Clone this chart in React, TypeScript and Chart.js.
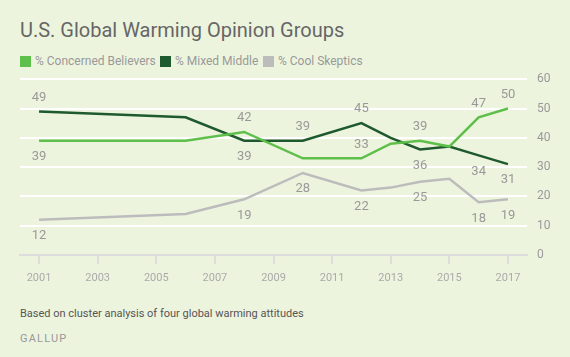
import React, { useEffect, useRef } from "react";
import { Chart, registerables } from "chart.js";

Chart.register(...registerables);

const years = [2001, 2006, 2008, 2010, 2012, 2013, 2014, 2015, 2016, 2017];
const concerned = [39, 39, 42, 33, 33, 38, 39, 37, 47, 50];
const mixed = [49, 47, 39, 39, 45, 40, 36, 37, 34, 31];
const skeptics = [12, 14, 19, 28, 22, 23, 25, 26, 18, 19];
const xTicks = [2001, 2003, 2005, 2007, 2009, 2011, 2013, 2015, 2017];
const yTicks = [0, 10, 20, 30, 40, 50, 60];

const seriesNames = ["% Concerned Believers", "% Mixed Middle", "% Cool Skeptics"];
const seriesColors = ["#5ec04a", "#1f5a2e", "#bcbcbc"];

// [datasetIndex, dataIndex, placement]
const labelMarks: [number, number, "above" | "below"][] = [
  [1, 0, "above"], [1, 2, "below"], [1, 3, "above"], [1, 4, "above"], [1, 6, "below"], [1, 8, "below"], [1, 9, "below"],
  [0, 0, "below"], [0, 2, "above"], [0, 4, "above"], [0, 6, "above"], [0, 8, "above"], [0, 9, "above"],
  [2, 0, "below"], [2, 2, "below"], [2, 3, "below"], [2, 4, "below"], [2, 6, "below"], [2, 8, "below"], [2, 9, "below"],
];

const FONT = "Roboto, 'Open Sans', sans-serif";

const labelPlugin = {
  id: "pointLabels",
  afterDatasetsDraw(chart: any) {
    const ctx = chart.ctx;
    ctx.save();
    ctx.font = `13px ${FONT}`;
    ctx.fillStyle = "#999999";
    ctx.textAlign = "center";
    ctx.textBaseline = "middle";
    for (const [di, i, pos] of labelMarks) {
      const el = chart.getDatasetMeta(di).data[i];
      if (!el) continue;
      const v = chart.data.datasets[di].data[i].y;
      const y = pos === "above" ? el.y - 14 : el.y + 16;
      ctx.fillText(String(v), el.x, y);
    }
    ctx.restore();
  },
};

export default function App() {
  const ref = useRef<HTMLCanvasElement>(null);
  useEffect(() => {
    document.body.style.margin = "0";
    const all = [concerned, mixed, skeptics];
    const chart = new Chart(ref.current!, {
      type: "line",
      data: {
        datasets: all.map((arr, k) => ({
          label: seriesNames[k],
          data: arr.map((v, i) => ({ x: years[i], y: v })),
          borderColor: seriesColors[k],
          backgroundColor: seriesColors[k],
          borderWidth: 2.5,
          pointRadius: 0,
          tension: 0,
        })),
      },
      options: {
        animation: false,
        responsive: false,
        maintainAspectRatio: false,
        layout: { padding: { left: 20, top: 0, right: 0, bottom: 0 } },
        plugins: { legend: { display: false }, tooltip: { enabled: false } },
        scales: {
          x: {
            type: "linear",
            min: 2000.35,
            max: 2017.65,
            afterBuildTicks: (s: any) => {
              s.ticks = xTicks.map((v) => ({ value: v }));
            },
            afterFit: (s: any) => {
              s.height = 38;
            },
            ticks: {
              callback: (v: any) => String(v),
              color: "#aaaaaa",
              font: { family: FONT, size: 11 },
              padding: 8,
              maxRotation: 0,
              autoSkip: false,
            },
            grid: { drawOnChartArea: false, drawTicks: true, tickLength: 9, color: "#dddddd", lineWidth: 2 },
            border: { display: true, color: "#dddddd", width: 2 },
          },
          y: {
            position: "right",
            min: 0,
            max: 60,
            afterBuildTicks: (s: any) => {
              s.ticks = yTicks.map((v) => ({ value: v }));
            },
            afterFit: (s: any) => {
              s.width = 43;
            },
            ticks: {
              color: "#999999",
              font: { family: FONT, size: 12 },
              padding: 10,
            },
            grid: {
              drawTicks: false,
              color: (c: any) => (c.tick && c.tick.value === 0 ? "rgba(0,0,0,0)" : "#ffffff"),
              lineWidth: 2,
            },
            border: { display: false },
          },
        },
      },
      plugins: [labelPlugin],
    });
    return () => chart.destroy();
  }, []);

  const legendItem = (k: number, left: number) => (
    <div key={k} style={{ position: "absolute", left, top: 55, height: 12, display: "flex", alignItems: "center" }}>
      <div style={{ width: 11, height: 11, background: seriesColors[k], marginRight: 4 }} />
      <span style={{ fontSize: 12, color: "#999999", lineHeight: "12px", whiteSpace: "nowrap" }}>{seriesNames[k]}</span>
    </div>
  );

  return (
    <div style={{ position: "relative", width: 570, height: 357, background: "#edf4de", fontFamily: FONT, overflow: "hidden" }}>
      <div style={{ position: "absolute", left: 20, top: 17, fontSize: 20, color: "#666666", whiteSpace: "nowrap", lineHeight: "26px" }}>
        U.S. Global Warming Opinion Groups
      </div>
      {legendItem(0, 20)}
      {legendItem(1, 160)}
      {legendItem(2, 263)}
      <canvas ref={ref} width={570} height={231} style={{ position: "absolute", left: 0, top: 62, width: 570, height: 231 }} />
      <div style={{ position: "absolute", left: 20, top: 306, fontSize: 11, color: "#555555", whiteSpace: "nowrap", lineHeight: "16px" }}>
        Based on cluster analysis of four global warming attitudes
      </div>
      <div style={{ position: "absolute", left: 20, top: 332, fontSize: 11, color: "#999999", letterSpacing: 1.2, lineHeight: "14px" }}>
        GALLUP
      </div>
    </div>
  );
}
